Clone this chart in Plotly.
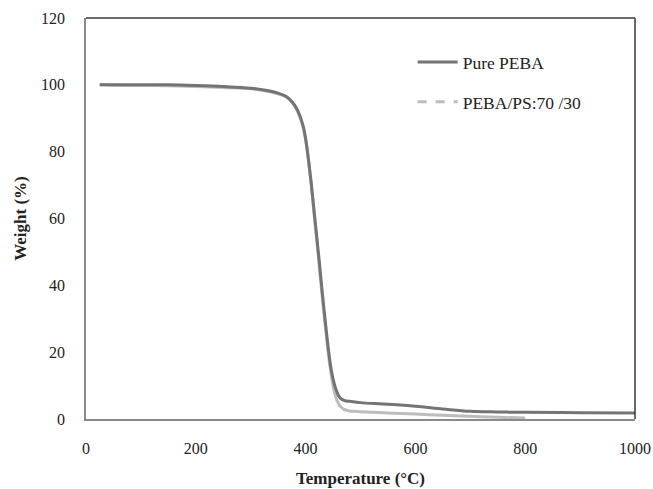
import plotly.graph_objects as go

# TGA weight-loss curves
temp_peba = [25, 50, 100, 150, 200, 250, 300, 330, 350, 365, 375, 385, 395, 400, 405,
             410, 415, 420, 425, 430, 435, 440, 445, 450, 455, 460, 465, 470, 475, 480,
             490, 500, 550, 600, 650, 700, 750, 800, 900, 1000]
weight_peba = [100, 100, 100, 100, 99.8, 99.5, 99.0, 98.3, 97.5, 96.5, 95.0, 92.5, 88.0, 84.0, 78.0,
               71.0, 63.0, 55.0, 47.0, 38.5, 30.5, 23.0, 16.5, 12.0, 9.0, 7.0, 6.0, 5.6, 5.4, 5.3,
               5.1, 4.9, 4.4, 3.8, 3.0, 2.3, 2.1, 2.0, 1.9, 1.8]

temp_blend = [25, 50, 100, 150, 200, 250, 300, 330, 350, 365, 375, 385, 395, 400, 405,
              410, 415, 420, 425, 430, 435, 440, 445, 450, 455, 460, 465, 470, 475, 480,
              490, 500, 550, 600, 650, 700, 750, 800]
weight_blend = [100, 99.9, 99.8, 99.7, 99.5, 99.2, 98.8, 98.1, 97.3, 96.3, 94.8, 92.2, 87.5, 83.5, 77.5,
                70.5, 62.0, 54.0, 45.5, 37.0, 29.0, 21.5, 15.0, 10.0, 6.5, 4.6, 3.5, 2.9, 2.6, 2.4,
                2.3, 2.2, 1.8, 1.5, 1.1, 0.8, 0.5, 0.3]

x_ticks = [0, 200, 400, 600, 800, 1000]
y_ticks = [0, 20, 40, 60, 80, 100, 120]

FONT = "Liberation Serif, Times New Roman, serif"

fig = go.Figure()

# blend curve drawn as a continuous line; legend entry uses the dashed style
fig.add_trace(go.Scatter(x=temp_blend, y=weight_blend, mode="lines",
                         line=dict(color="#bcbcbc", width=3, shape="spline"),
                         showlegend=False, hoverinfo="skip"))
fig.add_trace(go.Scatter(x=temp_peba, y=weight_peba, mode="lines", name="Pure PEBA",
                         legendgroup="a",
                         line=dict(color="#747474", width=3, shape="spline")))
fig.add_trace(go.Scatter(x=[None], y=[None], mode="lines", name="PEBA/PS:70 /30",
                         legendgroup="b",
                         line=dict(color="#bcbcbc", width=3, dash="dash")))

fig.update_layout(
    width=653, height=489,
    margin=dict(l=86, r=18, t=18, b=70),
    paper_bgcolor="white", plot_bgcolor="white",
    font=dict(family=FONT, size=16, color="#222222"),
    showlegend=True,
    legend=dict(x=0.595, y=0.935, xanchor="left", yanchor="top",
                bgcolor="rgba(0,0,0,0)", font=dict(family=FONT, size=17.5, color="#222222"),
                tracegroupgap=14, itemwidth=40),
    xaxis=dict(range=[0, 1000], tickvals=x_ticks, ticks="", showgrid=False, zeroline=False,
               showline=True, linecolor="#8a8a8a", linewidth=1.5, ticklabelstandoff=14,
               automargin=False,
               title=dict(text="<b>Temperature (°C)</b>", font=dict(family=FONT, size=17), standoff=16),
               tickfont=dict(family=FONT, size=16)),
    yaxis=dict(range=[0, 120], tickvals=y_ticks, ticks="", showgrid=False, zeroline=False,
               showline=True, linecolor="#8a8a8a", linewidth=1.5, ticklabelstandoff=16,
               automargin=False,
               title=dict(text="<b>Weight (%)</b>", font=dict(family=FONT, size=17), standoff=10),
               tickfont=dict(family=FONT, size=16)),
)

# darker top and right frame edges
fig.add_shape(type="line", xref="paper", yref="paper", x0=0, x1=1, y0=1, y1=1,
              line=dict(color="#3a3a3a", width=1.5))
fig.add_shape(type="line", xref="paper", yref="paper", x0=1, x1=1, y0=0, y1=1,
              line=dict(color="#3a3a3a", width=1.5))

fig.write_html("out.html")
